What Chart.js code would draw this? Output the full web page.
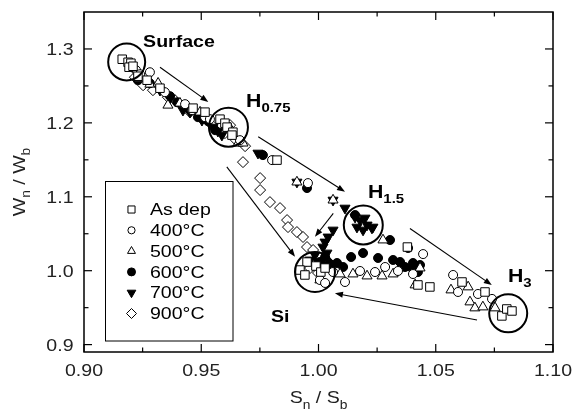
<!DOCTYPE html>
<html><head><meta charset="utf-8">
<script src="https://cdn.jsdelivr.net/npm/chart.js@4.4.1/dist/chart.umd.min.js"></script>
<style>html,body{margin:0;padding:0;background:#fff}canvas{display:block}</style>
</head><body>
<canvas id="c" width="577" height="410"></canvas>
<script>
// ---- axis ticks ----
const xTicks = [0.90, 0.95, 1.00, 1.05, 1.10];
const xTickLabels = ['0.90', '0.95', '1.00', '1.05', '1.10'];
const xMinorTicks = [0.925, 0.975, 1.025, 1.075];
const yTicks = [0.9, 1.0, 1.1, 1.2, 1.3];
const yTickLabels = ['0.9', '1.0', '1.1', '1.2', '1.3'];
const yMinorTicks = [0.95, 1.05, 1.15, 1.25];
const seriesNames = ['As dep', '400°C', '500°C', '600°C', '700°C', '900°C'];

// ---- series values [Sn/Sb, Wn/Wb] ----
const asDep = [[0.9163,1.2861],[0.9188,1.2820],[0.9200,1.2807],[0.9192,1.2753],[0.9209,1.2766],[0.9230,1.2631],[0.9269,1.2577],[0.9324,1.2469],[0.9465,1.2199],[0.9516,1.2145],[0.9580,1.2050],[0.9601,1.1996],[0.9610,1.1942],[0.9635,1.1874],[0.9631,1.1834],[0.9823,1.1496],[0.9989,1.0063],[1.0010,0.9982],[0.9951,1.0117],[0.9921,1.0009],[0.9942,0.9942],[1.0028,1.0036],[1.0379,1.0320],[1.0424,0.9807],[1.0475,0.9780],[1.0612,0.9847],[1.0710,0.9712],[1.0782,0.9388],[1.0803,0.9482],[1.0825,0.9455]];
const c400 = [[0.9222,1.2712],[0.9281,1.2685],[0.9239,1.2658],[0.9345,1.2415],[0.9431,1.2253],[0.9461,1.2172],[0.9516,1.2077],[0.9537,1.2050],[0.9665,1.1766],[0.9802,1.1496],[0.9955,1.1185],[1.0006,0.9874],[1.0028,0.9834],[1.0062,0.9982],[1.0113,0.9847],[1.0177,0.9996],[1.0241,0.9982],[1.0284,1.0050],[1.0339,0.9996],[1.0403,0.9955],[1.0446,1.0225],[1.0574,0.9942],[1.0595,0.9712],[1.0680,0.9685],[1.0740,0.9618]];
const c500 = [[0.9239,1.2604],[0.9281,1.2523],[0.9316,1.2536],[0.9358,1.2239],[0.9409,1.2266],[0.9495,1.2145],[0.9623,1.1928],[0.9657,1.1725],[0.9678,1.1726],[0.9908,1.1199],[1.0006,0.9874],[1.0062,1.0955],[1.0092,0.9955],[1.0147,0.9955],[1.0207,0.9928],[1.0271,0.9928],[1.0318,0.9955],[1.0275,1.0415],[1.0433,1.0036],[1.0412,0.9807],[1.0565,0.9739],[1.0638,0.9780],[1.0646,0.9577],[1.0667,0.9496],[1.0701,0.9509],[1.0753,0.9496]];
const c600 = [[0.9230,1.2577],[0.9281,1.2536],[0.9367,1.2361],[0.9397,1.2279],[0.9452,1.2172],[0.9486,1.2077],[0.9529,1.2023],[0.9559,1.1901],[0.9763,1.1564],[0.9951,1.1118],[1.0156,1.0753],[1.0006,1.0118],[1.0028,1.0185],[1.0049,1.0090],[1.0079,1.0104],[1.0105,1.0050],[1.0139,1.0185],[1.0190,1.0239],[1.0254,1.0172],[1.0305,1.0415],[1.0318,1.0145],[1.0348,1.0118],[1.0369,1.0050],[1.0382,1.0307],[1.0399,1.0036],[1.0403,1.0104],[1.0424,0.9982],[1.0433,1.0077]];
const c700 = [[0.9230,1.2645],[0.9324,1.2442],[0.9367,1.2334],[0.9422,1.2172],[0.9452,1.2145],[0.9503,1.2036],[0.9550,1.1942],[0.9571,1.1888],[0.9588,1.1834],[0.9742,1.1591],[0.9908,1.1199],[1.0062,1.0955],[1.0113,1.0847],[1.0156,1.0725],[1.0177,1.0685],[1.0198,1.0712],[1.0164,1.0590],[1.0207,1.0618],[1.0228,1.0577],[1.0190,1.0550],[1.0232,1.0590],[1.0062,1.0550],[1.0041,1.0456],[1.0028,1.0388],[1.0019,1.0320],[1.0036,1.0239],[0.9985,1.0212],[1.0015,1.0077],[0.9964,1.0145],[0.9998,1.0118]];
const c900 = [[0.9217,1.2618],[0.9252,1.2509],[0.9294,1.2442],[0.9358,1.2347],[0.9388,1.2307],[0.9431,1.2212],[0.9452,1.2145],[0.9495,1.2077],[0.9516,1.2064],[0.9546,1.1969],[0.9601,1.1861],[0.9623,1.1969],[0.9648,1.1766],[0.9687,1.1685],[0.9678,1.1469],[0.9751,1.1253],[0.9751,1.1091],[0.9793,1.0928],[0.9836,1.0847],[0.9866,1.0685],[0.9870,1.0590],[0.9908,1.0523],[0.9934,1.0456],[0.9951,1.0320],[0.9977,1.0280],[0.9964,1.0036],[0.9985,1.0104],[0.9998,0.9969]];

// ---- annotation anchors (data units) ----
const regionCircles = [[0.9182,1.2824],[0.9616,1.1942],[1.0191,1.0618],[0.9985,0.9983],[1.0809,0.9424]];
const regionNames = [['Surface',''],['H','0.75'],['H','1.5'],['Si',''],['H','3']];
const regionNamePos = [[0.9252,1.3023],[0.9691,1.2212],[1.0211,1.0982],[0.9797,0.9307],[1.0808,0.9847]];
const arrowsFrom = [[0.9324,1.2752],[0.9743,1.1811],[0.9609,1.1405],[1.0063,1.0776],[1.0390,1.0570],[1.0676,0.9334]];
const arrowsTo   = [[0.9530,1.2284],[1.0113,1.1068],[0.9900,1.0189],[0.9985,1.0459],[1.0739,0.9807],[1.0070,0.9695]];

// ---- styles ----
const FONT = '"Liberation Sans", Arial, Helvetica, sans-serif';
const SX = 1.15;
const styles = [
  {ps:'rect', r:6, fill:'#fff', rot:0, lr:5},
  {ps:'circle', r:4.5, fill:'#fff', rot:0, lr:3.6},
  {ps:'triangle', r:5.8, fill:'#fff', rot:0, lr:4.6},
  {ps:'circle', r:4.5, fill:'#000', rot:0, lr:4},
  {ps:'triangle', r:5.8, fill:'#000', rot:180, lr:5},
  {ps:'rectRot', r:5.5, fill:'#fff', rot:0, lr:5}
];
const seriesData = [asDep, c400, c500, c600, c700, c900];

function drawRich(ctx, parts, x, y, align) {
  let total = 0;
  const ws = parts.map(p => { ctx.font = (p[2] ? 'bold ' : '') + p[1] + 'px ' + FONT; const w = ctx.measureText(p[0]).width * SX; total += w; return w; });
  let cx = align === 'center' ? x - total / 2 : align === 'right' ? x - total : x;
  parts.forEach((p, i) => {
    ctx.font = (p[2] ? 'bold ' : '') + p[1] + 'px ' + FONT;
    ctx.save(); ctx.translate(cx, y + p[3]); ctx.scale(SX, 1);
    ctx.textAlign = 'left'; ctx.textBaseline = 'alphabetic'; ctx.fillText(p[0], 0, 0);
    ctx.restore(); cx += ws[i];
  });
}

function marker(ctx, st, x, y, r) {
  ctx.save();
  ctx.fillStyle = st.fill; ctx.strokeStyle = '#000'; ctx.lineWidth = 1;
  Chart.helpers.drawPoint(ctx, {pointStyle: st.ps, radius: r, rotation: st.rot, borderWidth: 1}, x, y);
  ctx.restore();
}

const deco = {
  id: 'deco',
  beforeDraw(chart) {
    const c = chart.ctx; c.save(); c.fillStyle = '#fff'; c.fillRect(0, 0, chart.width, chart.height); c.restore();
  },
  afterDatasetsDraw(chart) {
    const ctx = chart.ctx, xs = chart.scales.x, ys = chart.scales.y, a = chart.chartArea;
    const X = v => xs.getPixelForValue(v), Y = v => ys.getPixelForValue(v);
    ctx.save();
    ctx.fillStyle = '#000'; ctx.strokeStyle = '#000';
    // region circles
    const radii = [18.5, 19.5, 19.5, 20, 19];
    ctx.lineWidth = 2;
    regionCircles.forEach((p, i) => { ctx.beginPath(); ctx.arc(X(p[0]), Y(p[1]), radii[i], 0, Math.PI * 2); ctx.stroke(); });
    // arrows
    ctx.lineWidth = 1.1;
    arrowsFrom.forEach((f, i) => {
      const t = arrowsTo[i];
      const x1 = X(f[0]), y1 = Y(f[1]), x2 = X(t[0]), y2 = Y(t[1]);
      const ang = Math.atan2(y2 - y1, x2 - x1), L = 8, W = 3;
      ctx.beginPath(); ctx.moveTo(x1, y1); ctx.lineTo(x2 - Math.cos(ang) * L * 0.8, y2 - Math.sin(ang) * L * 0.8); ctx.stroke();
      ctx.beginPath(); ctx.moveTo(x2, y2);
      ctx.lineTo(x2 - Math.cos(ang) * L - Math.sin(ang) * W, y2 - Math.sin(ang) * L + Math.cos(ang) * W);
      ctx.lineTo(x2 - Math.cos(ang) * L + Math.sin(ang) * W, y2 - Math.sin(ang) * L - Math.cos(ang) * W);
      ctx.closePath(); ctx.fill();
    });
    // region names
    regionNames.forEach((n, i) => {
      const p = regionNamePos[i];
      const big = n[1] ? 18.5 : 17;
      const parts = [[n[0], big, true, 0]];
      if (n[1]) parts.push([n[1], 13, true, 5]);
      drawRich(ctx, parts, X(p[0]), Y(p[1]), 'left');
    });
    // frame
    ctx.lineWidth = 1.5;
    ctx.strokeRect(a.left, a.top, a.right - a.left, a.bottom - a.top);
    ctx.lineWidth = 1.2;
    const tick = (vals, len) => {
      vals.forEach(v => {
        const px = X(v);
        ctx.beginPath(); ctx.moveTo(px, a.bottom); ctx.lineTo(px, a.bottom - len); ctx.stroke();
        ctx.beginPath(); ctx.moveTo(px, a.top); ctx.lineTo(px, a.top + len); ctx.stroke();
      });
    };
    const ytick = (vals, len) => {
      vals.forEach(v => {
        const py = Y(v);
        ctx.beginPath(); ctx.moveTo(a.left, py); ctx.lineTo(a.left + len, py); ctx.stroke();
        ctx.beginPath(); ctx.moveTo(a.right, py); ctx.lineTo(a.right - len, py); ctx.stroke();
      });
    };
    tick(xTicks, 8); tick(xMinorTicks, 4.5); ytick(yTicks, 8); ytick(yMinorTicks, 4.5);
    // tick labels
    ctx.fillStyle = '#222';
    xTicks.forEach((v, i) => drawRich(ctx, [[xTickLabels[i], 17, false, 0]], X(v), a.bottom + 23.5, 'center'));
    yTicks.forEach((v, i) => drawRich(ctx, [[yTickLabels[i], 17, false, 0]], a.left - 10.5, Y(v) + 6.1, 'right'));
    // axis titles
    drawRich(ctx, [['S', 17, false, 0], ['n', 12, false, 5.5], [' / ', 17, false, 0], ['S', 17, false, 0], ['b', 12, false, 5.5]], (a.left + a.right) / 2, 403, 'center');
    ctx.save(); ctx.translate(25, (a.top + a.bottom) / 2); ctx.rotate(-Math.PI / 2);
    drawRich(ctx, [['W', 17, false, 0], ['n', 12, false, 5], [' / ', 17, false, 0], ['W', 17, false, 0], ['b', 12, false, 5]], 0, 0, 'center');
    ctx.restore();
    // legend
    ctx.lineWidth = 1; ctx.strokeStyle = '#000';
    ctx.strokeRect(105.5, 181.5, 127.5, 159.5);
    seriesNames.forEach((n, i) => {
      const ry = 209.5 + i * 20.8;
      marker(ctx, styles[i], 131.5, ry, styles[i].lr);
      ctx.fillStyle = '#000';
      drawRich(ctx, [[n, 17, false, 0]], 150, ry + 5.6, 'left');
    });
    ctx.restore();
  }
};

const datasets = seriesData.map((d, i) => ({
  label: seriesNames[i],
  data: d.map(p => ({x: p[0], y: p[1]})),
  pointStyle: styles[i].ps,
  pointRadius: styles[i].r,
  pointRotation: styles[i].rot,
  pointBackgroundColor: styles[i].fill,
  pointBorderColor: '#000',
  pointBorderWidth: 1,
  showLine: false
}));

new Chart(document.getElementById('c'), {
  type: 'scatter',
  data: {datasets},
  options: {
    responsive: false, animation: false, events: [], devicePixelRatio: 1,
    layout: {padding: {left: 84, right: 24, top: 12, bottom: 58}},
    plugins: {legend: {display: false}, tooltip: {enabled: false}},
    scales: {
      x: {type: 'linear', min: 0.90, max: 1.10, display: false},
      y: {type: 'linear', min: 0.89, max: 1.35, display: false}
    }
  },
  plugins: [deco]
});
</script>
</body></html>
